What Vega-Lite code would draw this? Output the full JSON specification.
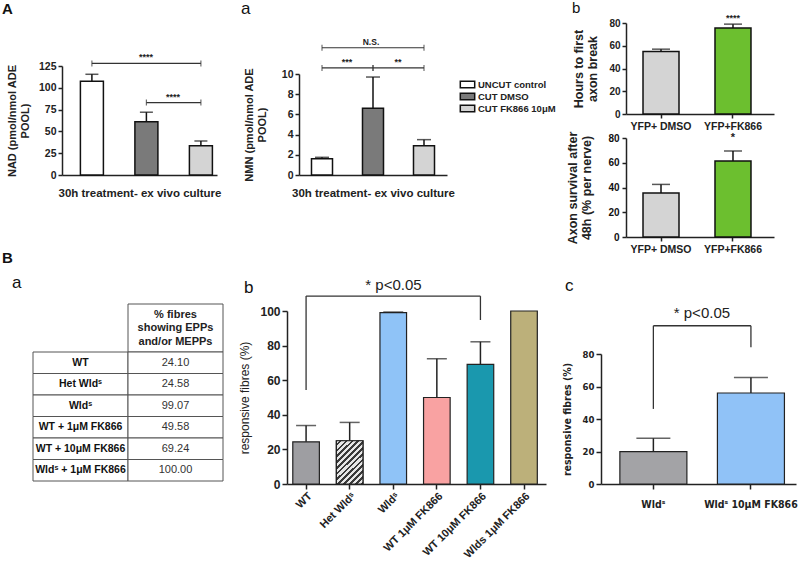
{
  "$schema": "https://vega.github.io/schema/vega-lite/v6.json",
  "autosize": {"type": "none"},
  "padding": {"left": 33, "top": 23, "right": 765, "bottom": 539},
  "background": "white",
  "spacing": -5,
  "resolve": {"scale": {"fill": "independent"}, "legend": {"fill": "independent"}},
  "config": {
    "view": {"stroke": null},
    "font": "Liberation Sans",
    "axis": {"domainColor": "#222", "tickColor": "#222", "labelColor": "#222", "titleColor": "#222", "domainWidth": 1.5, "tickWidth": 1.5, "grid": false, "labelFontWeight": "bold", "titleFontWeight": "bold", "labelFont": "Liberation Sans", "titleFont": "Liberation Sans", "labelOverlap": false},
    "title": {"anchor": "start", "frame": "group", "fontSize": 16, "fontWeight": "normal", "baseline": "alphabetic", "offset": 0, "color": "#111", "font": "Liberation Sans"},
    "legend": {"labelFont": "Liberation Sans"}
  },
  "datasets": {
    "nad": [
      {"group": "UNCUT control", "value": 107.5, "err": 115.5},
      {"group": "CUT DMSO", "value": 61, "err": 72},
      {"group": "CUT FK866 10μM", "value": 33.5, "err": 39}
    ],
    "nadbr": [
      {"group": "UNCUT control", "group2": "CUT FK866 10μM", "level": 128, "label": "****"},
      {"group": "CUT DMSO", "group2": "CUT FK866 10μM", "level": 83, "label": "****"}
    ],
    "nmn": [
      {"group": "UNCUT control", "value": 1.6, "err": 1.75},
      {"group": "CUT DMSO", "value": 6.6, "err": 9.7},
      {"group": "CUT FK866 10μM", "value": 2.9, "err": 3.5}
    ],
    "nmnbr": [
      {"group": "UNCUT control", "group2": "CUT FK866 10μM", "level": 12.6, "label": "N.S."},
      {"group": "UNCUT control", "group2": "CUT DMSO", "level": 10.6, "label": "***"},
      {"group": "CUT DMSO", "group2": "CUT FK866 10μM", "level": 10.6, "label": "**"}
    ],
    "btop": [
      {"group": "YFP+ DMSO", "value": 55, "err": 57, "sig": ""},
      {"group": "YFP+FK866", "value": 75.5, "err": 79, "sig": "****"}
    ],
    "bsurv": [
      {"group": "YFP+ DMSO", "value": 35.5, "err": 42.5, "sig": ""},
      {"group": "YFP+FK866", "value": 61.5, "err": 69.5, "sig": "*"}
    ],
    "tbl": [
      {"row": "WT", "col": "label", "txt": "WT"},
      {"row": "WT", "col": "value", "txt": "24.10"},
      {"row": "Het", "col": "label", "txt": "Het Wldˢ"},
      {"row": "Het", "col": "value", "txt": "24.58"},
      {"row": "Wld", "col": "label", "txt": "Wldˢ"},
      {"row": "Wld", "col": "value", "txt": "99.07"},
      {"row": "WT1", "col": "label", "txt": "WT + 1μM FK866"},
      {"row": "WT1", "col": "value", "txt": "49.58"},
      {"row": "WT10", "col": "label", "txt": "WT + 10μM FK866"},
      {"row": "WT10", "col": "value", "txt": "69.24"},
      {"row": "Wld1", "col": "label", "txt": "Wldˢ + 1μM FK866"},
      {"row": "Wld1", "col": "value", "txt": "100.00"}
    ],
    "bb": [
      {"group": "WT", "value": 24.4, "err": 33.8},
      {"group": "Het Wldˢ", "value": 25, "err": 35.6},
      {"group": "Wldˢ", "value": 99.1, "err": 99.4},
      {"group": "WT 1μM FK866", "value": 50, "err": 72.4},
      {"group": "WT 10μM FK866", "value": 69.2, "err": 82.2},
      {"group": "Wlds 1μM FK866", "value": 100, "err": null}
    ],
    "bbbr": [
      {"group": "WT", "group2": "WT 10μM FK866", "lo": 54.4, "lo2": 94.8, "top": 108.6, "label": "* p<0.05"}
    ],
    "bc": [
      {"group": "Wldˢ", "value": 19.9, "err": 28.1},
      {"group": "Wldˢ 10μM FK866", "value": 56, "err": 65.6}
    ],
    "bcbr": [
      {"group": "Wldˢ", "group2": "Wldˢ 10μM FK866", "lo": 46.2, "lo2": 84.1, "top": 97.4, "label": "* p<0.05"}
    ]
  },
  "vconcat": [
    {
      "spacing": 10,
      "resolve": {"scale": {"fill": "independent"}, "legend": {"fill": "independent"}},
      "hconcat": [
        {
          "bounds": "flush",
          "spacing": 0,
          "resolve": {"scale": {"fill": "independent"}, "legend": {"fill": "independent"}},
          "hconcat": [
            {"width": 29, "height": 1, "data": {"values": []}, "mark": "rule", "encoding": {}},
            {
              "width": 155,
              "height": 152,
              "title": {"text": "A", "fontWeight": "bold", "fontSize": 15, "dx": -60, "dy": -2},
              "layer": [
                {
                  "data": {"name": "nad"},
                  "mark": {"type": "bar", "stroke": "#111", "strokeWidth": 1.5},
                  "encoding": {
                    "x": {"field": "group", "type": "nominal", "sort": null,
                      "scale": {"domain": ["UNCUT control", "CUT DMSO", "CUT FK866 10μM"], "paddingInner": 0.578, "paddingOuter": 0.211, "align": 0.8},
                      "axis": {"labels": false, "ticks": false, "title": "30h treatment- ex vivo culture", "titleFontSize": 11.5, "titlePadding": 12}},
                    "y": {"field": "value", "type": "quantitative",
                      "scale": {"domain": [0, 125], "range": [152, 43], "nice": false},
                      "axis": {"values": [0, 25, 50, 75, 100, 125], "tickCount": 20, "format": "d", "labelOverlap": false, "title": ["NAD (pmol/nmol ADE", "POOL)"], "titleFontSize": 11, "titlePadding": 8, "labelFontSize": 10.5, "tickSize": 4}},
                    "fill": {"field": "group", "type": "nominal",
                      "scale": {"domain": ["UNCUT control", "CUT DMSO", "CUT FK866 10μM"], "range": ["#ffffff", "#7a7a7a", "#d4d4d4"]}, "legend": null}
                  }
                },
                {
                  "data": {"name": "nad"},
                  "mark": {"type": "rule", "color": "#111", "strokeWidth": 1.5},
                  "encoding": {"x": {"field": "group", "type": "nominal", "sort": null}, "y": {"field": "value", "type": "quantitative"}, "y2": {"field": "err"}}
                },
                {
                  "data": {"name": "nad"},
                  "mark": {"type": "tick", "color": "#111", "thickness": 1.5, "size": 13},
                  "encoding": {"x": {"field": "group", "type": "nominal", "sort": null}, "y": {"field": "err", "type": "quantitative"}}
                },
                {
                  "data": {"name": "nadbr"},
                  "mark": {"type": "rule", "color": "#333", "strokeWidth": 1.2},
                  "encoding": {"x": {"field": "group", "type": "nominal", "sort": null}, "x2": {"field": "group2"}, "y": {"field": "level", "type": "quantitative"}}
                },
                {
                  "data": {"name": "nadbr"},
                  "mark": {"type": "tick", "orient": "vertical", "color": "#333", "thickness": 1.2, "size": 6},
                  "encoding": {"x": {"field": "group", "type": "nominal", "sort": null}, "y": {"field": "level", "type": "quantitative"}}
                },
                {
                  "data": {"name": "nadbr"},
                  "mark": {"type": "tick", "orient": "vertical", "color": "#333", "thickness": 1.2, "size": 6},
                  "encoding": {"x": {"field": "group2", "type": "nominal", "sort": null}, "y": {"field": "level", "type": "quantitative"}}
                },
                {
                  "data": {"name": "nadbr"},
                  "transform": [{"filter": "datum.level == 128"}],
                  "mark": {"type": "text", "fontSize": 9, "fontWeight": "bold", "baseline": "bottom", "dx": -55, "dy": -1, "color": "#222"},
                  "encoding": {"x": {"field": "group2", "type": "nominal", "sort": null}, "y": {"field": "level", "type": "quantitative"}, "text": {"field": "label"}}
                },
                {
                  "data": {"name": "nadbr"},
                  "transform": [{"filter": "datum.level == 83"}],
                  "mark": {"type": "text", "fontSize": 9, "fontWeight": "bold", "baseline": "bottom", "dx": -28, "dy": -1, "color": "#222"},
                  "encoding": {"x": {"field": "group2", "type": "nominal", "sort": null}, "y": {"field": "level", "type": "quantitative"}, "text": {"field": "label"}}
                }
              ]
            },
            {"width": 82, "height": 1, "data": {"values": []}, "mark": "rule", "encoding": {}},
            {
              "width": 148,
              "height": 152,
              "title": {"text": "a", "fontSize": 17, "dx": -58, "dy": -1},
              "layer": [
                {
                  "data": {"name": "nmn"},
                  "mark": {"type": "bar", "stroke": "#111", "strokeWidth": 1.5},
                  "encoding": {
                    "x": {"field": "group", "type": "nominal", "sort": null,
                      "scale": {"domain": ["UNCUT control", "CUT DMSO", "CUT FK866 10μM"], "paddingInner": 0.588, "paddingOuter": 0.245},
                      "axis": {"labels": false, "ticks": false, "title": "30h treatment- ex vivo culture", "titleFontSize": 11.5, "titlePadding": 12}},
                    "y": {"field": "value", "type": "quantitative",
                      "scale": {"domain": [0, 10], "range": [152, 51], "nice": false},
                      "axis": {"values": [0, 2, 4, 6, 8, 10], "tickCount": 20, "format": "d", "labelOverlap": false, "title": ["NMN (pmol/nmol ADE", "POOL)"], "titleFontSize": 11, "titlePadding": 14, "labelFontSize": 10.5, "tickSize": 4}},
                    "fill": {"field": "group", "type": "nominal",
                      "scale": {"domain": ["UNCUT control", "CUT DMSO", "CUT FK866 10μM"], "range": ["#ffffff", "#7a7a7a", "#d4d4d4"]},
                      "legend": {"orient": "none", "legendX": 163, "legendY": 56, "title": null, "symbolType": "M-1.6,-0.7H1.6V0.7H-1.6Z", "symbolSize": 81, "symbolStrokeColor": "#111", "symbolStrokeWidth": 1.5, "labelFontSize": 9.5, "labelFontWeight": "bold", "labelColor": "#222", "rowPadding": -2, "labelOffset": 5, "padding": 0}}
                  }
                },
                {
                  "data": {"name": "nmn"},
                  "mark": {"type": "rule", "color": "#111", "strokeWidth": 1.5},
                  "encoding": {"x": {"field": "group", "type": "nominal", "sort": null}, "y": {"field": "value", "type": "quantitative"}, "y2": {"field": "err"}}
                },
                {
                  "data": {"name": "nmn"},
                  "mark": {"type": "tick", "color": "#111", "thickness": 1.5, "size": 14},
                  "encoding": {"x": {"field": "group", "type": "nominal", "sort": null}, "y": {"field": "err", "type": "quantitative"}}
                },
                {
                  "data": {"name": "nmnbr"},
                  "mark": {"type": "rule", "color": "#333", "strokeWidth": 1.2},
                  "encoding": {"x": {"field": "group", "type": "nominal", "sort": null}, "x2": {"field": "group2"}, "y": {"field": "level", "type": "quantitative"}}
                },
                {
                  "data": {"name": "nmnbr"},
                  "mark": {"type": "tick", "orient": "vertical", "color": "#333", "thickness": 1.2, "size": 6},
                  "encoding": {"x": {"field": "group", "type": "nominal", "sort": null}, "y": {"field": "level", "type": "quantitative"}}
                },
                {
                  "data": {"name": "nmnbr"},
                  "mark": {"type": "tick", "orient": "vertical", "color": "#333", "thickness": 1.2, "size": 6},
                  "encoding": {"x": {"field": "group2", "type": "nominal", "sort": null}, "y": {"field": "level", "type": "quantitative"}}
                },
                {
                  "data": {"name": "nmnbr"},
                  "transform": [{"filter": "datum.label == 'N.S.'"}],
                  "mark": {"type": "text", "fontSize": 8.5, "fontWeight": "bold", "baseline": "bottom", "dx": -53, "dy": -1, "color": "#222"},
                  "encoding": {"x": {"field": "group2", "type": "nominal", "sort": null}, "y": {"field": "level", "type": "quantitative"}, "text": {"field": "label"}}
                },
                {
                  "data": {"name": "nmnbr"},
                  "transform": [{"filter": "datum.label != 'N.S.'"}],
                  "mark": {"type": "text", "fontSize": 9, "fontWeight": "bold", "baseline": "bottom", "dx": -26, "dy": -1, "color": "#222"},
                  "encoding": {"x": {"field": "group2", "type": "nominal", "sort": null}, "y": {"field": "level", "type": "quantitative"}, "text": {"field": "label"}}
                }
              ]
            }
          ]
        },
        {
          "spacing": -1,
          "resolve": {"scale": {"fill": "independent"}, "legend": {"fill": "independent"}},
          "vconcat": [
            {
              "width": 148,
              "height": 91,
              "title": {"text": "b", "fontSize": 15, "dx": -54, "dy": 6},
              "data": {"name": "btop"},
              "layer": [
                {
                  "mark": {"type": "bar", "stroke": "#111", "strokeWidth": 1.5},
                  "encoding": {
                    "x": {"field": "group", "type": "nominal", "sort": null,
                      "scale": {"domain": ["YFP+ DMSO", "YFP+FK866"], "paddingInner": 0.5, "paddingOuter": 0.278, "align": 0.425},
                      "axis": {"title": null, "labelAngle": 0, "labelFontSize": 10.5, "tickSize": 4, "labelPadding": 3}},
                    "y": {"field": "value", "type": "quantitative", "scale": {"domain": [0, 80], "nice": false},
                      "axis": {"tickCount": 5, "format": "d", "labelOverlap": false, "title": ["Hours to first", "axon break"], "titleFontSize": 12.5, "labelFontSize": 10, "tickSize": 4, "titlePadding": 9}},
                    "fill": {"field": "group", "type": "nominal", "scale": {"domain": ["YFP+ DMSO", "YFP+FK866"], "range": ["#d4d4d4", "#6cbf2f"]}, "legend": null}
                  }
                },
                {
                  "mark": {"type": "rule", "color": "#111", "strokeWidth": 1.5},
                  "encoding": {"x": {"field": "group", "type": "nominal", "sort": null}, "y": {"field": "value", "type": "quantitative"}, "y2": {"field": "err"}}
                },
                {
                  "mark": {"type": "tick", "color": "#111", "thickness": 1.5, "size": 18},
                  "encoding": {"x": {"field": "group", "type": "nominal", "sort": null}, "y": {"field": "err", "type": "quantitative"}}
                },
                {
                  "mark": {"type": "text", "fontSize": 9, "fontWeight": "bold", "baseline": "bottom", "dy": -1, "color": "#222"},
                  "encoding": {"x": {"field": "group", "type": "nominal", "sort": null}, "y": {"field": "err", "type": "quantitative"}, "text": {"field": "sig"}}
                }
              ]
            },
            {
              "width": 148,
              "height": 99,
              "data": {"name": "bsurv"},
              "layer": [
                {
                  "mark": {"type": "bar", "stroke": "#111", "strokeWidth": 1.5},
                  "encoding": {
                    "x": {"field": "group", "type": "nominal", "sort": null,
                      "scale": {"domain": ["YFP+ DMSO", "YFP+FK866"], "paddingInner": 0.5, "paddingOuter": 0.278, "align": 0.425},
                      "axis": {"title": null, "labelAngle": 0, "labelFontSize": 10.5, "tickSize": 4, "labelPadding": 3}},
                    "y": {"field": "value", "type": "quantitative", "scale": {"domain": [0, 80], "nice": false},
                      "axis": {"tickCount": 5, "format": "d", "labelOverlap": false, "labelColor": "#111", "labelPadding": 3, "title": ["Axon survival after", "48h (% per nerve)"], "titleFontSize": 12.5, "labelFontSize": 10, "tickSize": 4, "titlePadding": 14}},
                    "fill": {"field": "group", "type": "nominal", "scale": {"domain": ["YFP+ DMSO", "YFP+FK866"], "range": ["#d4d4d4", "#6cbf2f"]}, "legend": null}
                  }
                },
                {
                  "mark": {"type": "rule", "color": "#111", "strokeWidth": 1.5},
                  "encoding": {"x": {"field": "group", "type": "nominal", "sort": null}, "y": {"field": "value", "type": "quantitative"}, "y2": {"field": "err"}}
                },
                {
                  "mark": {"type": "tick", "color": "#111", "thickness": 1.5, "size": 18},
                  "encoding": {"x": {"field": "group", "type": "nominal", "sort": null}, "y": {"field": "err", "type": "quantitative"}}
                },
                {
                  "mark": {"type": "text", "fontSize": 11, "fontWeight": "bold", "baseline": "bottom", "dy": -8, "color": "#222"},
                  "encoding": {"x": {"field": "group", "type": "nominal", "sort": null}, "y": {"field": "err", "type": "quantitative"}, "text": {"field": "sig"}}
                }
              ]
            }
          ]
        }
      ]
    },
    {
      "spacing": 14,
      "resolve": {"scale": {"fill": "independent"}, "legend": {"fill": "independent"}},
      "hconcat": [
        {
          "bounds": "flush",
          "spacing": 0,
          "vconcat": [
            {"width": 190, "height": 25, "title": {"text": "a", "fontSize": 17, "dx": -21, "dy": 17}, "data": {"values": []}, "mark": "rule", "encoding": {}},
            {
              "width": 190,
              "height": 48,
              "title": {"text": "B", "fontWeight": "bold", "fontSize": 15, "dx": -31, "dy": -34},
              "data": {"values": [{"col": "value", "txt": ["% fibres", "showing EPPs", "and/or MEPPs"]}]},
              "layer": [
                {
                  "mark": {"type": "rect", "fill": "white", "stroke": "#555", "strokeWidth": 1},
                  "encoding": {"x": {"field": "col", "type": "nominal", "scale": {"domain": ["label", "value"], "paddingInner": 0, "paddingOuter": 0}, "axis": null}}
                },
                {
                  "mark": {"type": "text", "fontWeight": "bold", "fontSize": 11, "lineHeight": 13.5, "baseline": "middle", "dy": -13.5, "color": "#222"},
                  "encoding": {"x": {"field": "col", "type": "nominal"}, "text": {"field": "txt"}}
                }
              ]
            },
            {
              "width": 190,
              "height": 129,
              "data": {"name": "tbl"},
              "layer": [
                {
                  "mark": {"type": "rect", "fill": "white", "stroke": "#555", "strokeWidth": 1},
                  "encoding": {
                    "x": {"field": "col", "type": "nominal", "scale": {"domain": ["label", "value"], "paddingInner": 0, "paddingOuter": 0}, "axis": null},
                    "y": {"field": "row", "type": "nominal", "sort": null, "scale": {"paddingInner": 0, "paddingOuter": 0}, "axis": null}
                  }
                },
                {
                  "transform": [{"filter": "datum.col == 'label'"}],
                  "mark": {"type": "text", "fontWeight": "bold", "fontSize": 10.5, "color": "#111"},
                  "encoding": {"x": {"field": "col", "type": "nominal"}, "y": {"field": "row", "type": "nominal", "sort": null}, "text": {"field": "txt"}}
                },
                {
                  "transform": [{"filter": "datum.col == 'value'"}],
                  "mark": {"type": "text", "fontSize": 11, "color": "#333"},
                  "encoding": {"x": {"field": "col", "type": "nominal"}, "y": {"field": "row", "type": "nominal", "sort": null}, "text": {"field": "txt"}}
                }
              ]
            }
          ]
        },
        {
          "bounds": "flush",
          "spacing": 0,
          "resolve": {"scale": {"fill": "independent"}, "legend": {"fill": "independent"}},
          "hconcat": [
            {
              "width": 259,
              "height": 205,
              "title": {"text": "b", "fontSize": 17, "dx": -43, "dy": 23},
              "layer": [
                {
                  "data": {"name": "bb"},
                  "mark": {"type": "bar", "stroke": "#222", "strokeWidth": 1.2},
                  "encoding": {
                    "x": {"field": "group", "type": "nominal", "sort": null,
                      "scale": {"domain": ["WT", "Het Wldˢ", "Wldˢ", "WT 1μM FK866", "WT 10μM FK866", "Wlds 1μM FK866"], "paddingInner": 0.39, "paddingOuter": 0.166, "align": 0.4},
                      "axis": {"title": null, "labelAngle": -45, "labelFontSize": 11, "tickSize": 5, "labelPadding": 1}},
                    "y": {"field": "value", "type": "quantitative", "scale": {"domain": [0, 100], "range": [205, 32], "nice": false},
                      "axis": {"values": [0, 20, 40, 60, 80, 100], "tickCount": 20, "format": "d", "labelOverlap": false, "title": "responsive fibres (%)", "titleFontWeight": "normal", "titleFontSize": 12, "labelFontSize": 12, "tickSize": 5, "titlePadding": 8}},
                    "fill": {"field": "group", "type": "nominal",
                      "scale": {"domain": ["WT", "Het Wldˢ", "Wldˢ", "WT 1μM FK866", "WT 10μM FK866", "Wlds 1μM FK866"], "range": ["#9e9ea2", "#cccccc", "#8fc3f7", "#f9a2a2", "#1a98ae", "#bcb07a"]}, "legend": null}
                  }
                },
                {
                  "data": {"name": "bb"},
                  "transform": [{"filter": "datum.group == 'Het Wldˢ'"}],
                  "mark": {"type": "bar", "stroke": "#222", "strokeWidth": 1.2,
                    "fill": {"gradient": "linear", "x1": 0, "y1": 0, "x2": 0.71, "y2": 1.175, "stops": [
                      {"offset": 0, "color": "#e6e6e6"}, {"offset": 0.045, "color": "#e6e6e6"}, {"offset": 0.045, "color": "#3a3a3a"}, {"offset": 0.0833, "color": "#3a3a3a"},
                      {"offset": 0.0833, "color": "#e6e6e6"}, {"offset": 0.1283, "color": "#e6e6e6"}, {"offset": 0.1283, "color": "#3a3a3a"}, {"offset": 0.1667, "color": "#3a3a3a"},
                      {"offset": 0.1667, "color": "#e6e6e6"}, {"offset": 0.2117, "color": "#e6e6e6"}, {"offset": 0.2117, "color": "#3a3a3a"}, {"offset": 0.25, "color": "#3a3a3a"},
                      {"offset": 0.25, "color": "#e6e6e6"}, {"offset": 0.295, "color": "#e6e6e6"}, {"offset": 0.295, "color": "#3a3a3a"}, {"offset": 0.3333, "color": "#3a3a3a"},
                      {"offset": 0.3333, "color": "#e6e6e6"}, {"offset": 0.3783, "color": "#e6e6e6"}, {"offset": 0.3783, "color": "#3a3a3a"}, {"offset": 0.4167, "color": "#3a3a3a"},
                      {"offset": 0.4167, "color": "#e6e6e6"}, {"offset": 0.4617, "color": "#e6e6e6"}, {"offset": 0.4617, "color": "#3a3a3a"}, {"offset": 0.5, "color": "#3a3a3a"},
                      {"offset": 0.5, "color": "#e6e6e6"}, {"offset": 0.545, "color": "#e6e6e6"}, {"offset": 0.545, "color": "#3a3a3a"}, {"offset": 0.5833, "color": "#3a3a3a"},
                      {"offset": 0.5833, "color": "#e6e6e6"}, {"offset": 0.6283, "color": "#e6e6e6"}, {"offset": 0.6283, "color": "#3a3a3a"}, {"offset": 0.6667, "color": "#3a3a3a"},
                      {"offset": 0.6667, "color": "#e6e6e6"}, {"offset": 0.7117, "color": "#e6e6e6"}, {"offset": 0.7117, "color": "#3a3a3a"}, {"offset": 0.75, "color": "#3a3a3a"},
                      {"offset": 0.75, "color": "#e6e6e6"}, {"offset": 0.795, "color": "#e6e6e6"}, {"offset": 0.795, "color": "#3a3a3a"}, {"offset": 0.8333, "color": "#3a3a3a"},
                      {"offset": 0.8333, "color": "#e6e6e6"}, {"offset": 0.8783, "color": "#e6e6e6"}, {"offset": 0.8783, "color": "#3a3a3a"}, {"offset": 0.9167, "color": "#3a3a3a"},
                      {"offset": 0.9167, "color": "#e6e6e6"}, {"offset": 0.9617, "color": "#e6e6e6"}, {"offset": 0.9617, "color": "#3a3a3a"}, {"offset": 1, "color": "#3a3a3a"}
                    ]}},
                  "encoding": {"x": {"field": "group", "type": "nominal", "sort": null}, "y": {"field": "value", "type": "quantitative"}}
                },
                {
                  "data": {"name": "bb"},
                  "transform": [{"filter": "isValid(datum.err)"}],
                  "mark": {"type": "rule", "color": "#222", "strokeWidth": 1.5},
                  "encoding": {"x": {"field": "group", "type": "nominal", "sort": null}, "y": {"field": "value", "type": "quantitative"}, "y2": {"field": "err"}}
                },
                {
                  "data": {"name": "bb"},
                  "transform": [{"filter": "isValid(datum.err)"}],
                  "mark": {"type": "tick", "color": "#222", "thickness": 1.5, "size": 20},
                  "encoding": {"x": {"field": "group", "type": "nominal", "sort": null}, "y": {"field": "err", "type": "quantitative"}}
                },
                {
                  "data": {"name": "bbbr"},
                  "mark": {"type": "rule", "color": "#333", "strokeWidth": 1.3},
                  "encoding": {"x": {"field": "group", "type": "nominal", "sort": null}, "y": {"field": "lo", "type": "quantitative"}, "y2": {"field": "top"}}
                },
                {
                  "data": {"name": "bbbr"},
                  "mark": {"type": "rule", "color": "#333", "strokeWidth": 1.3},
                  "encoding": {"x": {"field": "group2", "type": "nominal", "sort": null}, "y": {"field": "lo2", "type": "quantitative"}, "y2": {"field": "top"}}
                },
                {
                  "data": {"name": "bbbr"},
                  "mark": {"type": "rule", "color": "#333", "strokeWidth": 1.3},
                  "encoding": {"x": {"field": "group", "type": "nominal", "sort": null}, "x2": {"field": "group2"}, "y": {"field": "top", "type": "quantitative"}}
                },
                {
                  "data": {"name": "bbbr"},
                  "mark": {"type": "text", "fontSize": 15, "baseline": "alphabetic", "dx": -87, "dy": -6, "color": "#222"},
                  "encoding": {"x": {"field": "group2", "type": "nominal", "sort": null}, "y": {"field": "top", "type": "quantitative"}, "text": {"field": "label"}}
                }
              ]
            },
            {"width": 55, "height": 1, "data": {"values": []}, "mark": "rule", "encoding": {}},
            {
              "width": 195,
              "height": 205,
              "title": {"text": "c", "fontSize": 17, "dx": -36, "dy": 20},
              "layer": [
                {
                  "data": {"name": "bc"},
                  "mark": {"type": "bar", "stroke": "#222", "strokeWidth": 1.2},
                  "encoding": {
                    "x": {"field": "group", "type": "nominal", "sort": null,
                      "scale": {"domain": ["Wldˢ", "Wldˢ 10μM FK866"], "paddingInner": 0.313, "paddingOuter": 0.156, "align": 0.62},
                      "axis": {"title": null, "labelAngle": 0, "labelFontSize": 10.5, "labelFont": "Liberation Sans Narrow, DejaVu Sans Condensed", "tickSize": 5, "labelPadding": 10}},
                    "y": {"field": "value", "type": "quantitative", "scale": {"domain": [0, 80], "range": [205, 75], "nice": false},
                      "axis": {"values": [0, 20, 40, 60, 80], "tickCount": 20, "format": "d", "labelOverlap": false, "title": "responsive fibres (%)", "titleFont": "Liberation Sans Narrow, DejaVu Sans Condensed", "titleFontSize": 10.5, "labelFont": "Liberation Sans Narrow, DejaVu Sans Condensed", "labelFontSize": 9.5, "tickSize": 5, "titlePadding": 10}},
                    "fill": {"field": "group", "type": "nominal", "scale": {"domain": ["Wldˢ", "Wldˢ 10μM FK866"], "range": ["#a3a3a6", "#90c2f7"]}, "legend": null}
                  }
                },
                {
                  "data": {"name": "bc"},
                  "mark": {"type": "rule", "color": "#222", "strokeWidth": 1.5},
                  "encoding": {"x": {"field": "group", "type": "nominal", "sort": null}, "y": {"field": "value", "type": "quantitative"}, "y2": {"field": "err"}}
                },
                {
                  "data": {"name": "bc"},
                  "mark": {"type": "tick", "color": "#222", "thickness": 1.5, "size": 34},
                  "encoding": {"x": {"field": "group", "type": "nominal", "sort": null}, "y": {"field": "err", "type": "quantitative"}}
                },
                {
                  "data": {"name": "bcbr"},
                  "mark": {"type": "rule", "color": "#333", "strokeWidth": 1.3},
                  "encoding": {"x": {"field": "group", "type": "nominal", "sort": null}, "y": {"field": "lo", "type": "quantitative"}, "y2": {"field": "top"}}
                },
                {
                  "data": {"name": "bcbr"},
                  "mark": {"type": "rule", "color": "#333", "strokeWidth": 1.3},
                  "encoding": {"x": {"field": "group2", "type": "nominal", "sort": null}, "y": {"field": "lo2", "type": "quantitative"}, "y2": {"field": "top"}}
                },
                {
                  "data": {"name": "bcbr"},
                  "mark": {"type": "rule", "color": "#333", "strokeWidth": 1.3},
                  "encoding": {"x": {"field": "group", "type": "nominal", "sort": null}, "x2": {"field": "group2"}, "y": {"field": "top", "type": "quantitative"}}
                },
                {
                  "data": {"name": "bcbr"},
                  "mark": {"type": "text", "fontSize": 15, "baseline": "alphabetic", "dx": -49, "dy": -8, "color": "#222"},
                  "encoding": {"x": {"field": "group2", "type": "nominal", "sort": null}, "y": {"field": "top", "type": "quantitative"}, "text": {"field": "label"}}
                }
              ]
            }
          ]
        }
      ]
    }
  ]
}
